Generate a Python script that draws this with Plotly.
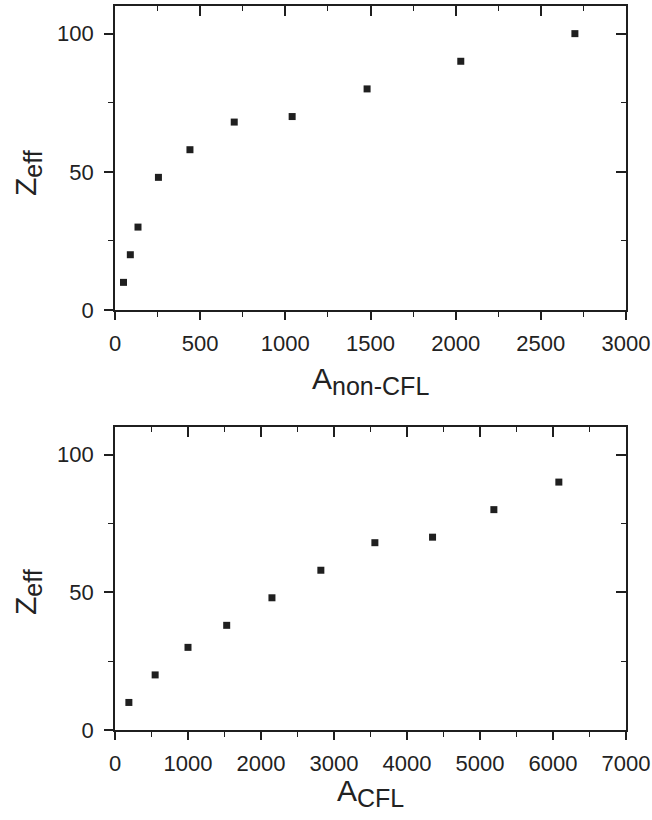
import plotly.graph_objects as go

# ------------------------------------------------------------
# data
# ------------------------------------------------------------
A_NON_CFL = [50, 90, 135, 255, 440, 700, 1040, 1480, 2030, 2700]
Z_NON_CFL = [10, 20, 30, 48, 58, 68, 70, 80, 90, 100]

A_CFL = [190, 550, 1000, 1530, 2150, 2820, 3560, 4350, 5190, 6080]
Z_CFL = [10, 20, 30, 38, 48, 58, 68, 70, 80, 90]

W, H = 652, 820
INK = "#1f1f1f"
FONT = "Liberation Sans, Arial, sans-serif"

X_DOM = [115 / W, 626 / W]
TOP_DOM = [1 - 310 / H, 1 - 6 / H]
BOT_DOM = [1 - 730 / H, 1 - 427 / H]

COMMON = dict(showgrid=False, zeroline=False, automargin=False,
              showline=True, linecolor=INK, linewidth=1.6, tickcolor=INK, tickwidth=1.6)


def main_x(dom_anchor, rng, dtick, minor):
    return dict(
        COMMON, range=rng, dtick=dtick, tick0=0, anchor=dom_anchor, domain=X_DOM,
        ticks="outside", ticklen=8,
        minor=dict(ticks="outside", ticklen=5, tickwidth=1.4, tickcolor=INK, dtick=minor),
        ticklabelstandoff=5, ticklabeloverflow="allow",
        tickfont=dict(family=FONT, size=22, color="#222"),
    )


def main_y(dom_anchor, dom):
    return dict(
        COMMON, range=[0, 110], dtick=50, tick0=0, anchor=dom_anchor, domain=dom,
        ticks="outside", ticklen=9,
        minor=dict(ticks="outside", ticklen=5, tickwidth=1.4, tickcolor=INK, dtick=25),
        ticklabelstandoff=6, ticklabeloverflow="allow",
        tickfont=dict(family=FONT, size=22, color="#222"),
    )


def top_x(over, anchor, rng, dtick, minor):
    return dict(
        COMMON, overlaying=over, side="top", anchor=anchor, range=rng, dtick=dtick, tick0=0,
        showticklabels=False, ticks="inside", ticklen=10,
        minor=dict(ticks="inside", ticklen=5, tickwidth=1.4, tickcolor=INK, dtick=minor),
    )


def right_y(over, anchor):
    return dict(
        COMMON, overlaying=over, side="right", anchor=anchor, range=[0, 110], dtick=50, tick0=0,
        showticklabels=False, ticks="inside", ticklen=10,
        minor=dict(ticks="inside", ticklen=5, tickwidth=1.4, tickcolor=INK, dtick=25),
    )


marker = dict(symbol="square", size=7, color=INK, line=dict(width=0))

fig = go.Figure()
fig.add_trace(go.Scatter(x=A_NON_CFL, y=Z_NON_CFL, mode="markers", marker=marker,
                         xaxis="x", yaxis="y"))
fig.add_trace(go.Scatter(x=[], y=[], mode="markers", xaxis="x3", yaxis="y3"))
fig.add_trace(go.Scatter(x=A_CFL, y=Z_CFL, mode="markers", marker=marker,
                         xaxis="x2", yaxis="y2"))
fig.add_trace(go.Scatter(x=[], y=[], mode="markers", xaxis="x4", yaxis="y4"))

fig.update_layout(
    template="none",
    width=W, height=H,
    margin=dict(l=0, r=0, t=0, b=0, autoexpand=False),
    paper_bgcolor="white", plot_bgcolor="white",
    showlegend=False,
    xaxis=main_x("y", [0, 3000], 500, 250),
    yaxis=main_y("x", TOP_DOM),
    xaxis3=top_x("x", "y3", [0, 3000], 500, 250),
    yaxis3=right_y("y", "x3"),
    xaxis2=main_x("y2", [0, 7000], 1000, 500),
    yaxis2=main_y("x2", BOT_DOM),
    xaxis4=top_x("x2", "y4", [0, 7000], 1000, 500),
    yaxis4=right_y("y2", "x4"),
)

title_font = dict(family=FONT, size=30, color="#222")
xc = (X_DOM[0] + X_DOM[1]) / 2


def sub(main, low):
    return f'{main}<sub><span style="font-size:25px">{low}</span></sub>'


for text, x, y, angle in [
    (sub("A", "non-CFL"), xc, 1 - 381 / H, 0),
    (sub("A", "CFL"), xc, 1 - 793 / H, 0),
    (sub("Z", "eff"), 28 / W, 1 - 173 / H, -90),
    (sub("Z", "eff"), 28 / W, 1 - 592 / H, -90),
]:
    fig.add_annotation(text=text, x=x, y=y, xref="paper", yref="paper",
                       xanchor="center", yanchor="middle", showarrow=False,
                       textangle=angle, font=title_font)

fig.write_html("out.html", config={"displayModeBar": False},
               post_script="document.body.style.margin='0';")
